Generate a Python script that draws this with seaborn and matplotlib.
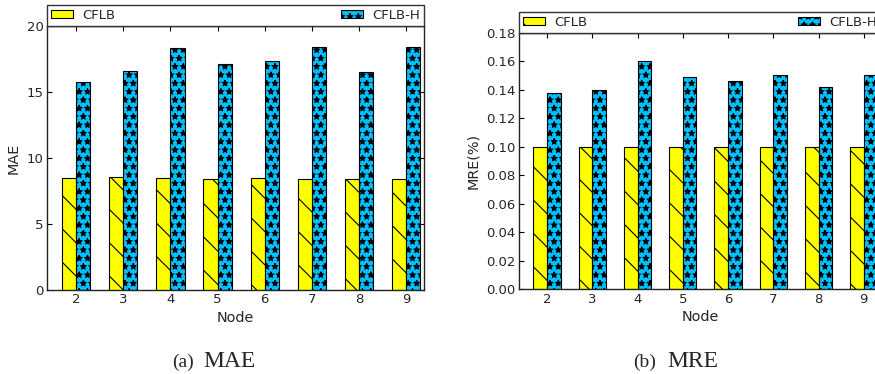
import matplotlib
matplotlib.use("Agg")
import matplotlib.pyplot as plt
import matplotlib.patches as mpatches
from matplotlib.ticker import FormatStrFormatter
import seaborn as sns
import pandas as pd

# ---- data ----
nodes = ["2", "3", "4", "5", "6", "7", "8", "9"]
methods = ["CFLB", "CFLB-H"]
mae_cflb = [8.46, 8.54, 8.49, 8.44, 8.46, 8.42, 8.42, 8.42]
mae_cflbh = [15.78, 16.59, 18.31, 17.10, 17.32, 18.39, 16.54, 18.39]
mre_cflb = [0.100, 0.100, 0.100, 0.100, 0.100, 0.100, 0.100, 0.100]
mre_cflbh = [0.138, 0.140, 0.160, 0.149, 0.146, 0.150, 0.142, 0.150]
mae_yticks = [0, 5, 10, 15, 20]
mre_yticks = [0.00, 0.02, 0.04, 0.06, 0.08, 0.10, 0.12, 0.14, 0.16, 0.18]
captions = [("(a)", "MAE"), ("(b)", "MRE")]

colors = ["#FFFF00", "#00BFFF"]
hatches = ["\\", "**"]

sns.set_style("ticks")
plt.rcParams["font.family"] = ["DejaVu Sans"]
plt.rcParams["hatch.linewidth"] = 0.8

fig = plt.figure(figsize=(8.75, 3.74), dpi=100)
ax1 = fig.add_axes([47 / 875, (374 - 290) / 374, 377 / 875, 264 / 374])
ax2 = fig.add_axes([519 / 875, (374 - 289.3) / 374, 362 / 875, 256.6 / 374])


def make_df(a, b):
    rows = []
    for n, v in zip(nodes, a):
        rows.append({"Node": n, "value": v, "Method": methods[0]})
    for n, v in zip(nodes, b):
        rows.append({"Node": n, "value": v, "Method": methods[1]})
    return pd.DataFrame(rows)


def draw(ax, df, ylim, yticks, ylabel, fmt, leg_h):
    sns.barplot(data=df, x="Node", y="value", hue="Method", order=nodes,
                hue_order=methods, palette=colors, saturation=1, width=0.6,
                edgecolor="black", linewidth=0.8, ax=ax, legend=False,
                errorbar=None)
    for cont, h in zip(ax.containers, hatches):
        for p in cont:
            p.set_hatch(h)
            p.set_edgecolor("black")
    ax.set_xlim(-0.62, 7.38)
    ax.set_ylim(*ylim)
    ax.set_yticks(yticks)
    if fmt:
        ax.yaxis.set_major_formatter(FormatStrFormatter(fmt))
    ax.set_xlabel("Node", fontsize=10.4, labelpad=3)
    ax.set_ylabel(ylabel, fontsize=10.4, labelpad=4)
    ax.tick_params(direction="in", top=True, right=True, length=3.5,
                   width=0.8, labelsize=9.5, pad=2.5, color="black")
    for s in ax.spines.values():
        s.set_visible(True)
        s.set_color("#222222")
        s.set_linewidth(1.0)
    handles = [mpatches.Patch(facecolor=c, edgecolor="black", hatch=h,
                              linewidth=0.8, label=m)
               for c, h, m in zip(colors, hatches, methods)]
    leg = ax.legend(handles=handles, bbox_to_anchor=(0, 1, 1, leg_h),
                    loc="lower left", mode="expand", ncol=2,
                    borderaxespad=0, fontsize=9.5, frameon=True,
                    fancybox=False, framealpha=1, edgecolor="#333333",
                    handlelength=1.7, handleheight=0.55, handletextpad=0.7,
                    borderpad=0.3)
    leg.get_frame().set_linewidth(1.0)


draw(ax1, make_df(mae_cflb, mae_cflbh), (0, 20), mae_yticks, "MAE", None,
     19 / 264)
draw(ax2, make_df(mre_cflb, mre_cflbh), (0, 0.18), mre_yticks, "MRE(%)",
     "%.2f", 23 / 256.6)

serif = ["Liberation Serif", "DejaVu Serif"]
yb = (374 - 367) / 374
fig.text(172 / 875, yb, captions[0][0], fontsize=14, family=serif, va="baseline")
fig.text(203 / 875, yb, captions[0][1], fontsize=17, family=serif, va="baseline")
fig.text(633 / 875, yb, captions[1][0], fontsize=14, family=serif, va="baseline")
fig.text(667 / 875, yb, captions[1][1], fontsize=17, family=serif, va="baseline")

fig.savefig("out.png", dpi=100)
